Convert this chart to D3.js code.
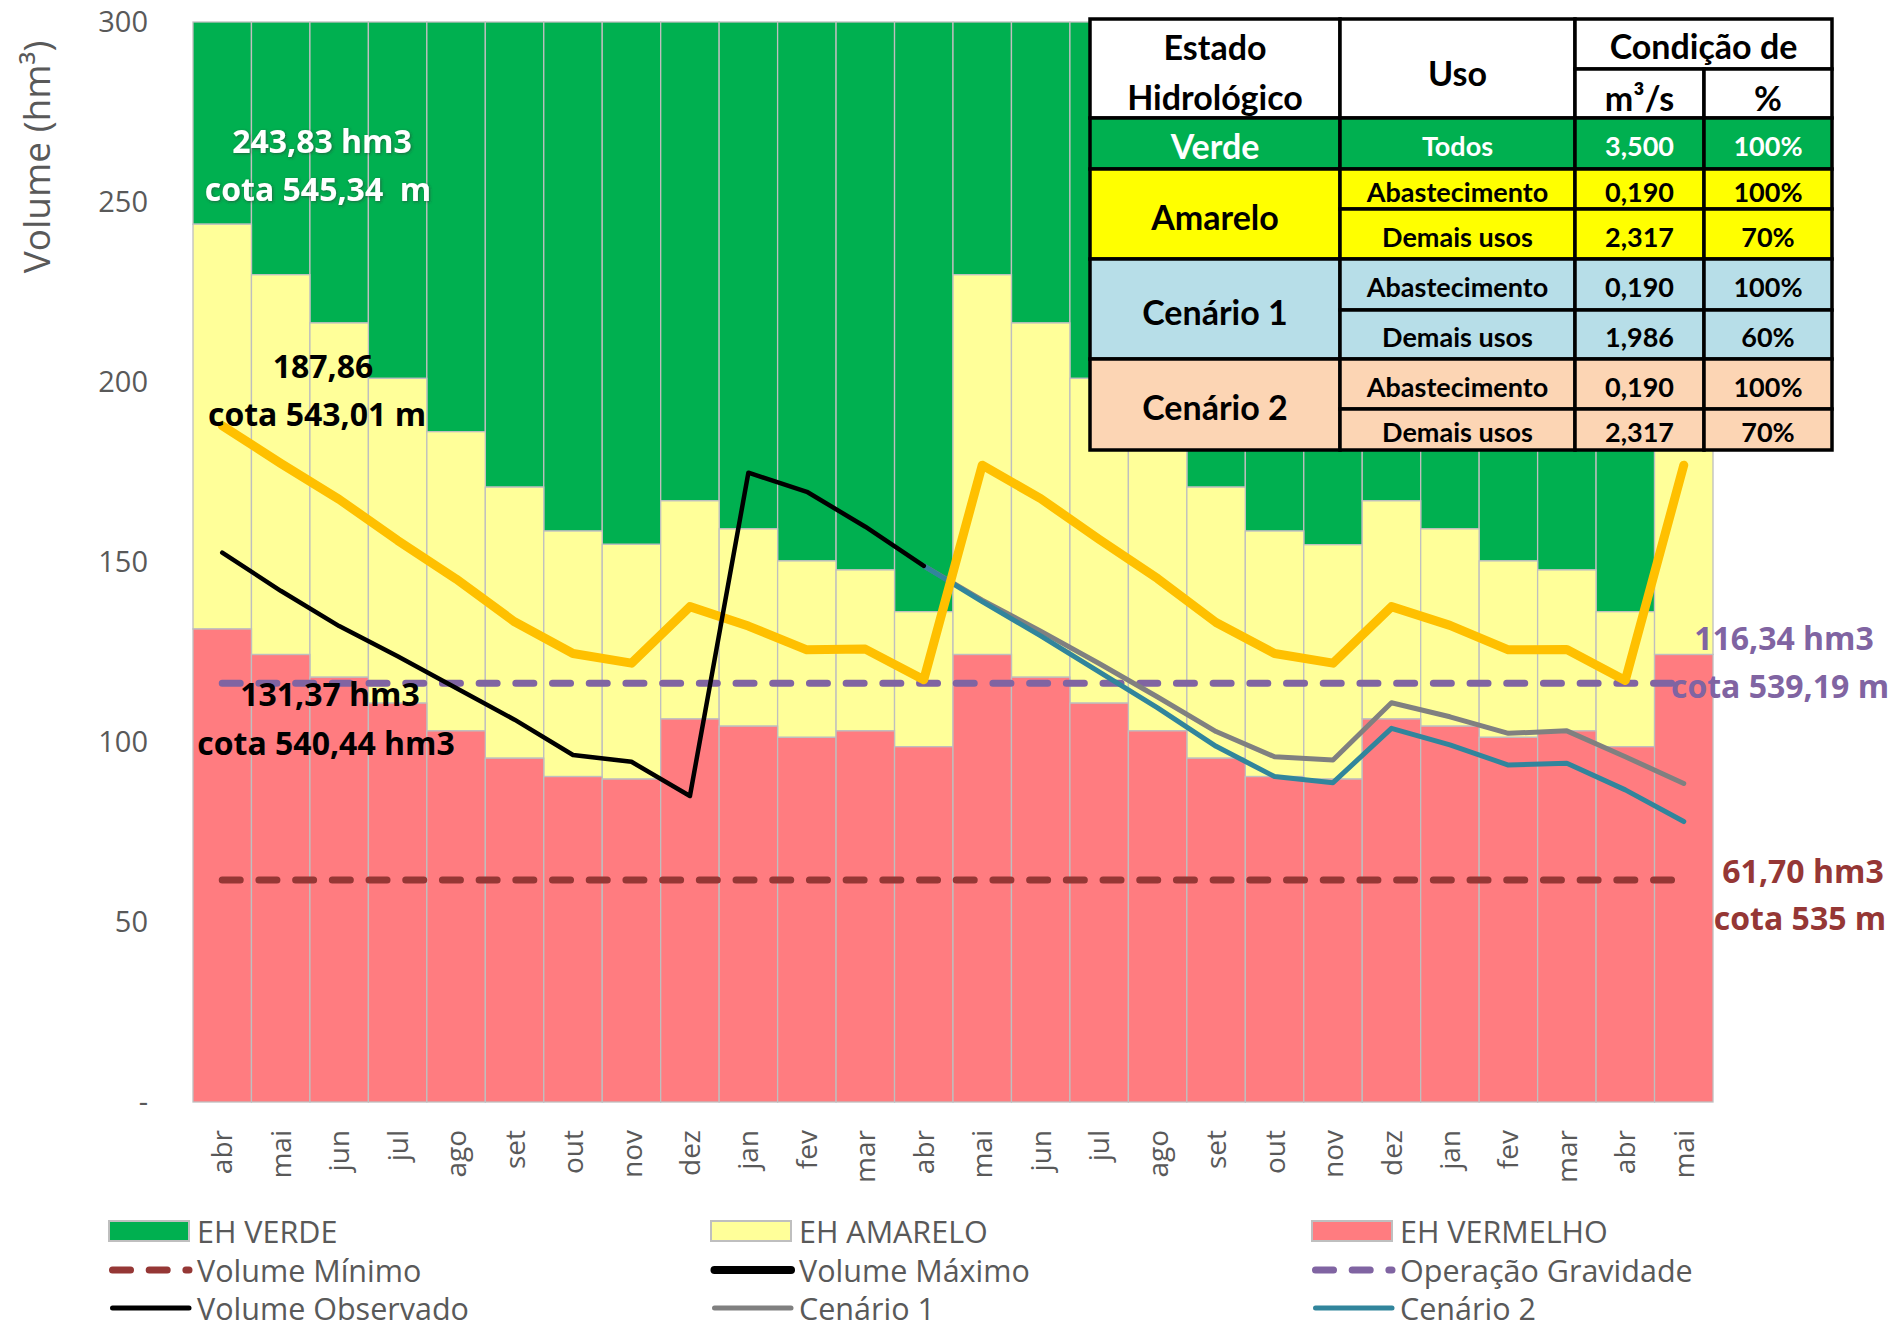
<!DOCTYPE html>
<html>
<head>
<meta charset="utf-8">
<script src="https://cdn.jsdelivr.net/npm/d3@7"></script>
<style>
  body { margin: 0; background: #fff; }
  text { font-family: 'Open Sans', sans-serif; }
  .tbl text { font-family: Lato, 'Open Sans', sans-serif; font-weight: 700; }
</style>
</head>
<body>
<div id="chart"></div>
<script>
const months = ['abr', 'mai', 'jun', 'jul', 'ago', 'set', 'out', 'nov', 'dez', 'jan', 'fev', 'mar',
  'abr', 'mai', 'jun', 'jul', 'ago', 'set', 'out', 'nov', 'dez', 'jan', 'fev', 'mar', 'abr', 'mai']

// upper limit of each hydrological state (hm3)
const limiteVermelho = [131.4, 124.3, 118.0, 110.8, 103.1, 95.5, 90.4, 89.7, 106.4, 104.4, 101.3, 103.1, 98.7,
  124.3, 118.0, 110.8, 103.1, 95.5, 90.4, 89.7, 106.4, 104.4, 101.3, 103.1, 98.7, 124.3]
const limiteAmarelo = [243.83, 229.8, 216.4, 201.0, 186.2, 170.8, 158.6, 154.9, 167.0, 159.2, 150.3, 147.8, 136.2,
  229.8, 216.4, 201.0, 186.2, 170.8, 158.6, 154.8, 167.0, 159.2, 150.3, 147.8, 136.2, 229.8]
const limiteVerde = 300

const curvaLaranja = [187.86, 177.4, 167.4, 156.0, 145.3, 133.4, 124.6, 121.9, 137.6, 132.2, 125.6, 125.8, 117.3,
  176.9, 167.6, 156.3, 145.4, 133.2, 124.6, 121.9, 137.6, 132.4, 125.6, 125.7, 117.1, 176.9]
const volumeObservado = [152.6, 142.0, 132.2, 123.8, 115.0, 106.2, 96.4, 94.5, 85.0, 174.8, 169.5, 159.8, 148.9,
  null, null, null, null, null, null, null, null, null, null, null, null, null]
const cenario1 = [null, null, null, null, null, null, null, null, null, null, null, null, 148.9,
  139.4, 130.8, 121.8, 112.5, 102.9, 95.9, 95.0, 110.9, 107.0, 102.4, 103.1, 95.9, 88.5]
const cenario2 = [null, null, null, null, null, null, null, null, null, null, null, null, 148.9,
  139.0, 129.5, 119.5, 109.5, 98.8, 90.4, 88.7, 103.8, 99.2, 93.6, 94.1, 86.7, 77.9]

const volumeMinimo = 61.70
const operacaoGravidade = 116.34

const yTicks = [0, 50, 100, 150, 200, 250, 300]

const tabelaCab = ['Estado', 'Hidrológico', 'Uso', 'Condição de', 'm³/s', '%']
const tabelaEstados = ['Verde', 'Amarelo', 'Cenário 1', 'Cenário 2']
const tabelaUsos = [['Todos'], ['Abastecimento', 'Demais usos'], ['Abastecimento', 'Demais usos'], ['Abastecimento', 'Demais usos']]
const tabelaVazao = [['3,500'], ['0,190', '2,317'], ['0,190', '1,986'], ['0,190', '2,317']]
const tabelaPct = [['100%'], ['100%', '70%'], ['100%', '60%'], ['100%', '70%']]

const W = 1904
const H = 1330
const margin = { top: 22, left: 193, right: 191, bottom: 228 }

const svg = d3.select('#chart')
  .append('svg')
  .attr('width', W)
  .attr('height', H)

const defs = svg.append('defs')
defs.append('filter').attr('id', 'sombra')
  .append('feDropShadow')
  .attr('dx', 1).attr('dy', 1).attr('stdDeviation', 1.5)
  .attr('flood-color', '#333').attr('flood-opacity', 0.6)

const x = d3.scaleBand()
  .domain(d3.range(months.length))
  .range([margin.left, W - margin.right])
  .padding(0)

const y = d3.scaleLinear()
  .domain([0, 300])
  .range([H - margin.bottom, margin.top])

const cx = i => x(i) + x.bandwidth() / 2

// stacked bars
const bars = svg.append('g').attr('class', 'bars')
const barStyle = sel => sel.attr('stroke', '#bfbfbf').attr('stroke-width', 1.3)

bars.selectAll('.verde')
  .data(limiteAmarelo)
  .enter().append('rect')
  .attr('x', (d, i) => x(i))
  .attr('width', x.bandwidth())
  .attr('y', y(limiteVerde))
  .attr('height', d => y(d) - y(limiteVerde))
  .attr('fill', '#00b050')
  .call(barStyle)

bars.selectAll('.amarelo')
  .data(limiteAmarelo)
  .enter().append('rect')
  .attr('x', (d, i) => x(i))
  .attr('width', x.bandwidth())
  .attr('y', d => y(d))
  .attr('height', (d, i) => y(limiteVermelho[i]) - y(d))
  .attr('fill', '#ffff99')
  .call(barStyle)

bars.selectAll('.vermelho')
  .data(limiteVermelho)
  .enter().append('rect')
  .attr('x', (d, i) => x(i))
  .attr('width', x.bandwidth())
  .attr('y', d => y(d))
  .attr('height', d => y(0) - y(d))
  .attr('fill', '#ff7c80')
  .call(barStyle)

// axes
const yAxis = d3.axisLeft(y)
  .tickValues(yTicks)
  .tickSize(0)
  .tickPadding(45)
  .tickFormat(d => d === 0 ? '-' : d)

svg.append('g')
  .attr('class', 'axis y-axis')
  .attr('transform', 'translate(' + margin.left + ',0)')
  .call(yAxis)
  .call(g => g.select('.domain').remove())
  .selectAll('text')
  .attr('font-family', "'Open Sans', sans-serif")
  .attr('font-size', 29)
  .attr('fill', '#595959')

const xAxis = d3.axisBottom(x)
  .tickSize(0)
  .tickFormat(i => months[i])

svg.append('g')
  .attr('class', 'axis x-axis')
  .attr('transform', 'translate(0,' + y(0) + ')')
  .call(xAxis)
  .call(g => g.select('.domain').remove())
  .selectAll('text')
  .attr('font-family', "'Open Sans', sans-serif")
  .attr('font-size', 28)
  .attr('fill', '#595959')
  .attr('transform', 'rotate(-90)')
  .attr('text-anchor', 'end')
  .attr('x', -28)
  .attr('y', 0)
  .attr('dy', '0.36em')

svg.append('text')
  .attr('transform', 'translate(35,157) rotate(-90)')
  .attr('text-anchor', 'middle')
  .attr('dominant-baseline', 'central')
  .attr('font-size', 37)
  .attr('fill', '#595959')
  .text('Volume (hm³)')

// dashed reference lines
const refLine = (valor, cor) => {
  svg.append('line')
    .attr('x1', cx(0))
    .attr('x2', cx(months.length - 1))
    .attr('y1', y(valor))
    .attr('y2', y(valor))
    .attr('stroke', cor)
    .attr('stroke-width', 7)
    .attr('stroke-linecap', 'round')
    .attr('stroke-dasharray', '18 18.7')
}
refLine(volumeMinimo, '#953735')
refLine(operacaoGravidade, '#8064a2')

const line = d3.line()
  .defined(d => d != null)
  .x((d, i) => cx(i))
  .y(d => y(d))

const drawLine = (dados, cor, largura) => {
  svg.append('path')
    .datum(dados)
    .attr('d', line)
    .attr('fill', 'none')
    .attr('stroke', cor)
    .attr('stroke-width', largura)
    .attr('stroke-linejoin', 'round')
    .attr('stroke-linecap', 'round')
}
drawLine(cenario1, '#808080', 5)
drawLine(cenario2, '#31859c', 5)
drawLine(curvaLaranja, '#ffc000', 9)
drawLine(volumeObservado, '#000', 4.5)

// annotations
const notas = [
  { t: '243,83 hm3', x: 322, y: 140, c: '#fff', s: true },
  { t: 'cota 545,34  m', x: 318, y: 188, c: '#fff', s: true },
  { t: '187,86', x: 323, y: 365, c: '#000' },
  { t: 'cota 543,01 m', x: 317, y: 413, c: '#000' },
  { t: '131,37 hm3', x: 330, y: 693, c: '#000' },
  { t: 'cota 540,44 hm3', x: 326, y: 742, c: '#000' },
  { t: '116,34 hm3', x: 1784, y: 637, c: '#8064a2' },
  { t: 'cota 539,19 m', x: 1780, y: 685, c: '#8064a2' },
  { t: '61,70 hm3', x: 1803, y: 870, c: '#953735' },
  { t: 'cota 535 m', x: 1800, y: 917, c: '#953735' }
]
svg.append('g')
  .selectAll('text')
  .data(notas)
  .enter().append('text')
  .attr('x', d => d.x)
  .attr('y', d => d.y)
  .attr('text-anchor', 'middle')
  .attr('dominant-baseline', 'central')
  .attr('font-size', 32)
  .attr('font-weight', 700)
  .attr('fill', d => d.c)
  .attr('filter', d => d.s ? 'url(#sombra)' : null)
  .style('white-space', 'pre')
  .text(d => d.t)

// table
const tx = [1090, 1340, 1575, 1704, 1832]
const ty = [19, 69, 118, 169, 209, 259, 310, 359, 409, 450]
const tbl = svg.append('g').attr('class', 'tbl')
const fills = ['#00b050', '#ffff00', '#b7dee8', '#fcd5b4']
const textCor = ['#fff', '#000', '#000', '#000']

const cell = (x0, x1, y0, y1, fill) => {
  tbl.append('rect')
    .attr('x', x0).attr('y', y0)
    .attr('width', x1 - x0).attr('height', y1 - y0)
    .attr('fill', fill)
    .attr('stroke', '#000')
    .attr('stroke-width', 3.5)
}
const label = (t, xm, ym, size, cor) => {
  tbl.append('text')
    .attr('x', xm).attr('y', ym)
    .attr('text-anchor', 'middle')
    .attr('dominant-baseline', 'central')
    .attr('font-size', size)
    .attr('fill', cor)
    .text(t)
}

// header
cell(tx[0], tx[1], ty[0], ty[2], '#fff')
cell(tx[1], tx[2], ty[0], ty[2], '#fff')
cell(tx[2], tx[4], ty[0], ty[1], '#fff')
cell(tx[2], tx[3], ty[1], ty[2], '#fff')
cell(tx[3], tx[4], ty[1], ty[2], '#fff')
label(tabelaCab[0], (tx[0] + tx[1]) / 2, 46, 34, '#000')
label(tabelaCab[1], (tx[0] + tx[1]) / 2, 96, 34, '#000')
label(tabelaCab[2], (tx[1] + tx[2]) / 2, 72, 34, '#000')
label(tabelaCab[3], (tx[2] + tx[4]) / 2, 45, 34, '#000')
label(tabelaCab[4], (tx[2] + tx[3]) / 2, 97, 34, '#000')
label(tabelaCab[5], (tx[3] + tx[4]) / 2, 97, 34, '#000')

// body rows
const blocos = [[2, 3], [3, 4, 5], [5, 6, 7], [7, 8, 9]]
blocos.forEach((b, k) => {
  const y0 = ty[b[0]]
  const y1 = ty[b[b.length - 1]]
  cell(tx[0], tx[1], y0, y1, fills[k])
  label(tabelaEstados[k], (tx[0] + tx[1]) / 2, (y0 + y1) / 2 + 2, 34, textCor[k])
  for (let r = 0; r < b.length - 1; r++) {
    const ya = ty[b[r]]
    const yb = ty[b[r + 1]]
    const ym = (ya + yb) / 2 + 2
    cell(tx[1], tx[2], ya, yb, fills[k])
    cell(tx[2], tx[3], ya, yb, fills[k])
    cell(tx[3], tx[4], ya, yb, fills[k])
    label(tabelaUsos[k][r], (tx[1] + tx[2]) / 2, ym, 27, textCor[k])
    label(tabelaVazao[k][r], (tx[2] + tx[3]) / 2, ym, 27, textCor[k])
    label(tabelaPct[k][r], (tx[3] + tx[4]) / 2, ym, 27, textCor[k])
  }
})

// legend
const legenda = [
  { t: 'EH VERDE', tipo: 'rect', cor: '#00b050' },
  { t: 'EH AMARELO', tipo: 'rect', cor: '#ffff99' },
  { t: 'EH VERMELHO', tipo: 'rect', cor: '#ff7c80' },
  { t: 'Volume Mínimo', tipo: 'dash', cor: '#953735' },
  { t: 'Volume Máximo', tipo: 'line', cor: '#000', w: 8 },
  { t: 'Operação Gravidade', tipo: 'dash', cor: '#8064a2' },
  { t: 'Volume Observado', tipo: 'line', cor: '#000', w: 5 },
  { t: 'Cenário 1', tipo: 'line', cor: '#808080', w: 5 },
  { t: 'Cenário 2', tipo: 'line', cor: '#31859c', w: 5 }
]
const legX = [109, 711, 1312]
const legY = [1231, 1270, 1308]

const leg = svg.append('g').attr('class', 'legend')
legenda.forEach((d, i) => {
  const lx = legX[i % 3]
  const ly = legY[Math.floor(i / 3)]
  if (d.tipo === 'rect') {
    leg.append('rect')
      .attr('x', lx).attr('y', ly - 10)
      .attr('width', 80).attr('height', 20)
      .attr('fill', d.cor)
      .attr('stroke', '#bfbfbf').attr('stroke-width', 2)
  } else {
    leg.append('line')
      .attr('x1', lx + 3.5).attr('x2', lx + 80)
      .attr('y1', ly).attr('y2', ly)
      .attr('stroke', d.cor)
      .attr('stroke-width', d.tipo === 'dash' ? 7 : d.w)
      .attr('stroke-linecap', 'round')
      .attr('stroke-dasharray', d.tipo === 'dash' ? '18 18.7' : null)
  }
  leg.append('text')
    .attr('x', lx + 88).attr('y', ly)
    .attr('dominant-baseline', 'central')
    .attr('font-size', 30.5)
    .attr('fill', '#595959')
    .text(d.t)
})
</script>
</body>
</html>
